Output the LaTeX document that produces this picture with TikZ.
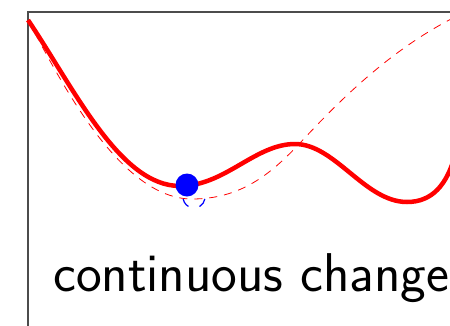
\documentclass[tikz,border=0pt]{standalone}
\begin{document}
\begin{tikzpicture}[x=1pt,y=-1pt,
  frame/.style={draw=black!70,line width=1.3pt},
  mainpath/.style={draw=red,line width=4.5pt},
  guide/.style={draw=red,line width=0.8pt,dash pattern=on 8pt off 7pt},
  ball/.style={circle,fill=blue,inner sep=0pt,minimum size=23pt},
  caption/.style={anchor=base west,inner sep=0pt,font=\fontsize{54.6}{60}\selectfont\sffamily}]
\useasboundingbox (0,0) rectangle (450,325);
\clip (0,0) rectangle (450,325);
\draw[frame] (470,12) -- (28,12) -- (28,345);
\coordinate (s) at (28,20);
\coordinate (g1) at (192,199);
\coordinate (g2) at (300,143);
\coordinate (g3) at (455,17);
\coordinate (m1) at (180,186);
\coordinate (p) at (295,144);
\coordinate (m2) at (407,202);
\coordinate (e) at (455,155);
\draw[guide] (s) .. controls (60,80) and (120,199) .. (g1)
  .. controls (240,199) and (270,175) .. (g2)
  .. controls (340,100) and (390,50) .. (g3);
\draw[mainpath] (s) .. controls (75,90) and (120,186) .. (m1)
  .. controls (225,186) and (255,144) .. (p)
  .. controls (335,144) and (365,202) .. (m2)
  .. controls (432,202) and (447,185) .. (e);
\draw[blue,line width=1.2pt,dash pattern=on 9.6pt off 11.5pt] (194,197) ++(10:11) arc[start angle=10,end angle=170,radius=11];
\node[ball] (dot) at (187,185) {};
\node[caption] (txt) at (53,291) {continuous change};
\end{tikzpicture}
\end{document}
